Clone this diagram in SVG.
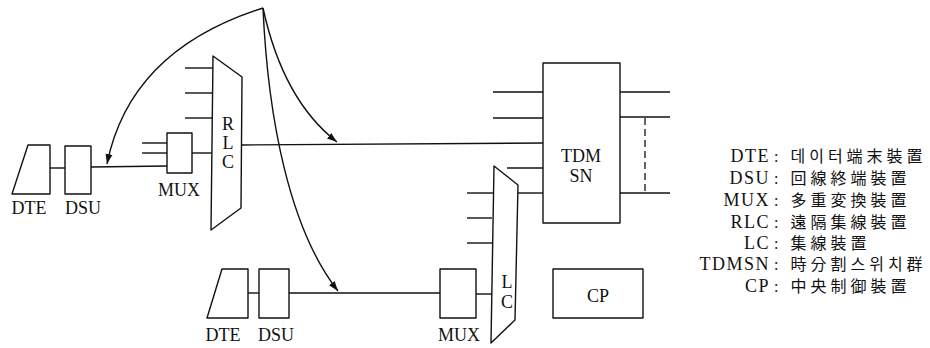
<svg xmlns="http://www.w3.org/2000/svg" width="930" height="348" viewBox="0 0 930 348">
<style>
.s{fill:none;stroke:#111;stroke-width:1.4;stroke-linejoin:round}
.w{fill:#fff;stroke:#111;stroke-width:1.4;stroke-linejoin:round}
.t{font-family:'Liberation Serif','DejaVu Serif',serif;font-size:18px;fill:#111;text-anchor:middle}
.lg{font-family:'Liberation Serif','DejaVu Serif',serif;font-size:18px;fill:#111;text-anchor:end;letter-spacing:1.5px}
.cj{font-family:'Liberation Serif','Noto Sans CJK KR',serif;font-size:16px;fill:#111;letter-spacing:4px}
.d{fill:none;stroke:#111;stroke-width:1.3;stroke-dasharray:7,4}
</style>
<defs>
<marker id="ah" viewBox="0 0 10 10" refX="10" refY="5" markerWidth="10" markerHeight="10" markerUnits="userSpaceOnUse" orient="auto">
<path d="M0,1.5 L10,5 L0,8.5 Z" fill="#111"/>
</marker>
</defs>
<rect width="930" height="348" fill="#fff"/>

<g id="connectors">
<line class="s" x1="50" y1="168" x2="65" y2="168"/>
<line class="s" x1="91" y1="167" x2="167" y2="166"/>
<line class="s" x1="142" y1="143" x2="167" y2="143"/>
<line class="s" x1="142" y1="153" x2="167" y2="153"/>
<line class="s" x1="192" y1="153" x2="213" y2="153"/>
<line class="s" x1="185" y1="68" x2="213" y2="68"/>
<line class="s" x1="185" y1="93" x2="213" y2="93"/>
<line class="s" x1="185" y1="118" x2="213" y2="118"/>
<line class="s" x1="242" y1="145" x2="543" y2="143"/>
<line class="s" x1="493" y1="92" x2="543" y2="92"/>
<line class="s" x1="493" y1="118" x2="543" y2="118"/>
<line class="s" x1="507" y1="168" x2="543" y2="168"/>
<line class="s" x1="518" y1="193" x2="543" y2="193"/>
<line class="s" x1="620" y1="92" x2="670" y2="92"/>
<line class="s" x1="620" y1="117" x2="670" y2="117"/>
<line class="s" x1="620" y1="193" x2="670" y2="193"/>
<line class="d" x1="645" y1="118" x2="645" y2="192"/>
<line class="s" x1="467" y1="193" x2="493" y2="193"/>
<line class="s" x1="467" y1="218" x2="492" y2="218"/>
<line class="s" x1="467" y1="243" x2="492" y2="243"/>
<line class="s" x1="476" y1="294" x2="492" y2="294"/>
<line class="s" x1="248" y1="293" x2="259" y2="293"/>
<line class="s" x1="289" y1="293" x2="440" y2="293"/>
<path class="s" d="M263,8 Q130,50 107,164" marker-end="url(#ah)"/>
<path class="s" d="M263,8 Q283,100 337,142" marker-end="url(#ah)"/>
<path class="s" d="M263,8 C268,120 290,230 338,291" marker-end="url(#ah)"/>
</g>

<g id="dte1">
<path class="w" d="M28,145 L50,145 L50,194 L12,194 Z"/>
<text class="t" x="29" y="214">DTE</text>
</g>
<g id="dsu1">
<rect class="w" x="65" y="146" width="26" height="48"/>
<text class="t" x="83" y="214">DSU</text>
</g>
<g id="mux1">
<rect class="w" x="167" y="133" width="25" height="40"/>
<text class="t" x="179" y="196">MUX</text>
</g>
<g id="rlc">
<path class="w" d="M213,56 L242,77 L241,208 L211,230 Z"/>
<text class="t" x="228" y="130">R</text>
<text class="t" x="228" y="149">L</text>
<text class="t" x="228" y="168">C</text>
</g>
<g id="tdmsn">
<rect class="w" x="543" y="63" width="77" height="160"/>
<text class="t" x="581" y="162">TDM</text>
<text class="t" x="581" y="182">SN</text>
</g>
<g id="lc">
<path class="w" d="M494,166 L518,185 L515,320 L491,343 Z"/>
<text class="t" x="507" y="288">L</text>
<text class="t" x="507" y="308">C</text>
</g>
<g id="dte2">
<path class="w" d="M222,269 L248,269 L248,318 L207,318 Z"/>
<text class="t" x="223" y="341">DTE</text>
</g>
<g id="dsu2">
<rect class="w" x="259" y="269" width="30" height="49"/>
<text class="t" x="276" y="341">DSU</text>
</g>
<g id="mux2">
<rect class="w" x="440" y="269" width="36" height="49"/>
<text class="t" x="459" y="341">MUX</text>
</g>
<g id="cp">
<rect class="w" x="553" y="269" width="90" height="49"/>
<text class="t" x="598" y="302">CP</text>
</g>

<g id="legend">
<text class="lg" x="770" y="162">DTE</text><text class="cj" x="774" y="162">: 데이터端末裝置</text>
<text class="lg" x="770" y="184">DSU</text><text class="cj" x="774" y="184">: 回線終端裝置</text>
<text class="lg" x="770" y="206">MUX</text><text class="cj" x="774" y="206">: 多重変換裝置</text>
<text class="lg" x="770" y="228">RLC</text><text class="cj" x="774" y="228">: 遠隔集線裝置</text>
<text class="lg" x="770" y="249">LC</text><text class="cj" x="774" y="249">: 集線裝置</text>
<text class="lg" x="770" y="270">TDMSN</text><text class="cj" x="774" y="270">: 時分割스위치群</text>
<text class="lg" x="770" y="292">CP</text><text class="cj" x="774" y="292">: 中央制御裝置</text>
</g>
</svg>
